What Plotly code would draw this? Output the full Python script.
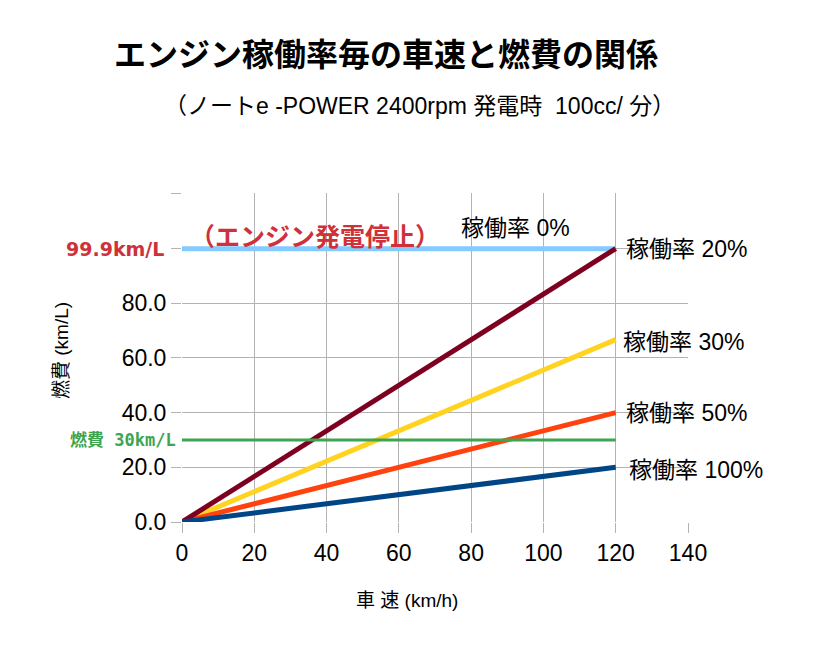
import plotly.graph_objects as go

# ------ Data --------
speed = [0, 120]
rate_labels = ["稼働率 0%", "稼働率 20%", "稼働率 30%", "稼働率 50%", "稼働率 100%"]
fuel_0 = [99.9, 99.9]
fuel_20 = [0, 100]
fuel_30 = [0, 66.7]
fuel_50 = [0, 40]
fuel_100 = [0, 20]
target = [30, 30]

y_ticks = [0, 20, 40, 60, 80, 100, 120]
y_text = ["0.0", "20.0", "40.0", "60.0", "80.0", "", ""]
x_ticks = [0, 20, 40, 60, 80, 100, 120, 140]

FONT = "Liberation Sans, Arial, Noto Sans CJK JP, sans-serif"
GOTHIC = "Noto Sans CJK JP, sans-serif"
RED = "#d0303a"
GREEN = "#3ea450"

fig = go.Figure()

# ------ Series (drawn bottom-up so 100% stays visible at the origin) --------
series = [
    (fuel_0, "#83caff", 5),
    (fuel_30, "#ffd320", 5),
    (fuel_50, "#ff420e", 5),
    (fuel_20, "#7e0021", 5),
    (fuel_100, "#004586", 5),
]
for vals, color, w in series:
    fig.add_scatter(x=speed, y=vals, mode="lines", line=dict(color=color, width=w),
                    showlegend=False, hoverinfo="skip")

fig.add_scatter(x=speed, y=target, mode="lines", line=dict(color=GREEN, width=3),
                showlegend=False, hoverinfo="skip")

# ------ Series labels --------
label_pos = [
    (fuel_0[-1], -157, 21),   # 0% label sits above the line, left of the end
    (fuel_20[-1], 8, 0),
    (fuel_30[-1], 5, -2),
    (fuel_50[-1], 8, 0),
    (fuel_100[-1], 11, -3),
]
for text, (yv, xs, ys) in zip(rate_labels, label_pos):
    fig.add_annotation(x=speed[-1], y=yv, text=text, showarrow=False,
                       xanchor="left", yanchor="middle", xshift=xs, yshift=ys,
                       font=dict(family=FONT, size=23, color="black"))

fig.add_annotation(x=0, y=fuel_0[0], text="<b>（エンジン発電停止）</b>", showarrow=False,
                   xanchor="left", yanchor="middle", xshift=6, yshift=14,
                   font=dict(family=GOTHIC, size=25, color=RED))
fig.add_annotation(xref="paper", x=0, y=fuel_0[0], text="<b>99.9km/L</b>", showarrow=False,
                   xanchor="right", yanchor="middle", xshift=-16,
                   font=dict(family="DejaVu Sans, sans-serif", size=19, color=RED))
fig.add_annotation(xref="paper", x=0, y=target[0], text="<b>燃費 30km/L</b>", showarrow=False,
                   xanchor="right", yanchor="middle", xshift=-4,
                   font=dict(family="DejaVu Sans Mono, Noto Sans CJK JP, monospace", size=17,
                             color=GREEN))

# ------ Titles --------
fig.add_annotation(xref="paper", yref="paper", x=-0.138, y=1.43,
                   text="<b>エンジン稼働率毎の車速と燃費の関係</b>", showarrow=False,
                   xanchor="left", yanchor="middle",
                   font=dict(family=GOTHIC, size=32, color="black"))
fig.add_annotation(xref="paper", yref="paper", x=-0.04, y=1.265,
                   text="（ノートe -POWER 2400rpm 発電時  100cc/ 分）", showarrow=False,
                   xanchor="left", yanchor="middle",
                   font=dict(family=FONT, size=23, color="black"))
fig.add_annotation(xref="paper", yref="paper", x=-0.237, y=0.52,
                   text="燃費 (km/L)", textangle=-90, showarrow=False,
                   xanchor="center", yanchor="middle",
                   font=dict(family=FONT, size=19, color="black"))
fig.add_annotation(xref="paper", yref="paper", x=0.445, y=-0.24,
                   text="車 速 (km/h)", showarrow=False,
                   xanchor="center", yanchor="middle",
                   font=dict(family=FONT, size=19, color="black"))

# ------ Axes --------
fig.update_xaxes(range=[0, 140], tickvals=x_ticks, showgrid=True, gridcolor="#b3b3b3",
                 gridwidth=1, zeroline=False, showline=False, ticks="outside", ticklen=10,
                 tickcolor="#b3b3b3", tickfont=dict(family=FONT, size=23, color="black"))
fig.update_yaxes(range=[0, 120.3], tickvals=y_ticks, ticktext=y_text, showgrid=True,
                 gridcolor="#b3b3b3", gridwidth=1, zeroline=False, showline=False,
                 ticks="outside", ticklen=10, tickcolor="#b3b3b3",
                 tickfont=dict(family=FONT, size=23, color="black"))

# the page body adds an 8px offset, so margins are shifted to compensate
fig.update_layout(
    width=821, height=647,
    margin=dict(l=174, r=141, t=185, b=133),
    paper_bgcolor="white", plot_bgcolor="white",
)

fig.write_html("out.html")
